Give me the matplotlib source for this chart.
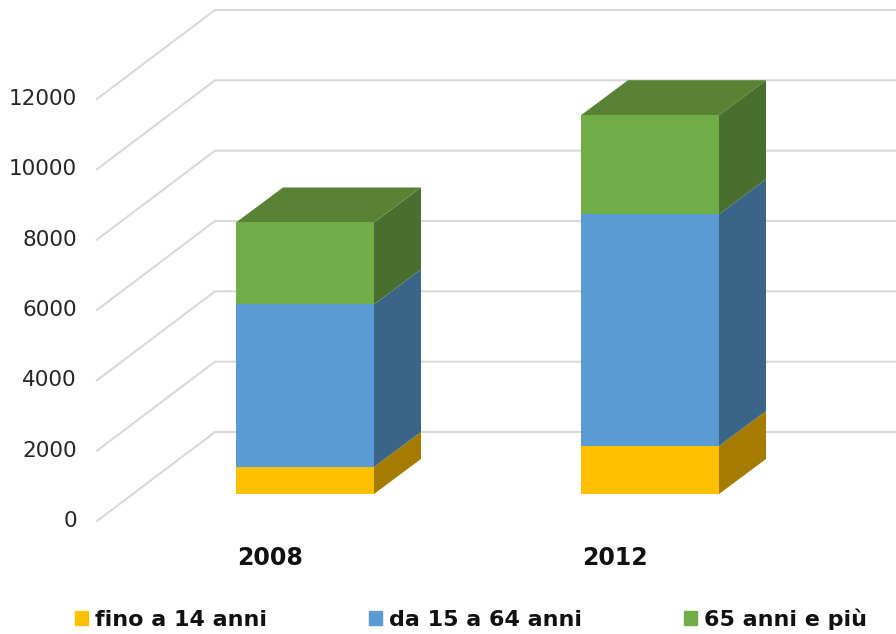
import matplotlib
matplotlib.use("Agg")
import matplotlib.pyplot as plt
from matplotlib.patches import Patch

years = ['2008', '2012']
series = ['fino a 14 anni', 'da 15 a 64 anni', '65 anni e più']
fino_14 = [770, 1365]
da_15_64 = [4620, 6590]
oltre_65 = [2330, 2815]
ticks = [0, 2000, 4000, 6000, 8000, 10000, 12000]

face_colors = ['#FFC000', '#5B9BD5', '#70AD47']
side_colors = ['#A67C00', '#3B6489', '#496F2E']
top_color = '#598235'
grid_color = '#D9D9D9'

px = 0.03517  # pixels per unit on the y scale
front_zero = 521
floor_dx, floor_dy = 118, 89
bar_left = [236, 581]
bar_width = 138
bar_dx, bar_dy = 47, 35
bar_base = 27 / px


def up(pixels):
    return pixels / px


fig = plt.figure(figsize=(8.96, 6.34), dpi=100)
ax = fig.add_axes([0, 0, 1, 1])
ax.set_xlim(0, 896)
ax.set_ylim((front_zero - 634) / px, front_zero / px)
ax.axis('off')

# walls
for t in ticks:
    ax.plot([97, 97 + floor_dx, 896], [t, t + up(floor_dy), t + up(floor_dy)],
            color=grid_color, lw=1.5, zorder=1)
    ax.text(77, t, str(t), ha='right', va='center', fontsize=15.5,
            color='#262626', family='DejaVu Sans')

# bars
for i, year in enumerate(years):
    x0 = bar_left[i]
    x1 = x0 + bar_width
    bottom = bar_base
    for values, face, side in zip([fino_14, da_15_64, oltre_65], face_colors, side_colors):
        top = bottom + values[i]
        ax.fill([x0, x1, x1, x0], [bottom, bottom, top, top], color=face, lw=0, zorder=3)
        ax.fill([x1, x1 + bar_dx, x1 + bar_dx, x1],
                [bottom, bottom + up(bar_dy), top + up(bar_dy), top],
                color=side, lw=0, zorder=2)
        bottom = top
    ax.fill([x0, x1, x1 + bar_dx, x0 + bar_dx],
            [bottom, bottom, bottom + up(bar_dy), bottom + up(bar_dy)],
            color=top_color, lw=0, zorder=2)
    ax.text(x0 + 34, (front_zero - 558) / px, year, ha='center', va='center',
            fontsize=17, fontweight='bold', color='#111111', family='DejaVu Sans')

handles = [Patch(color=c, label=s) for c, s in zip(face_colors, series)]
ax.legend(handles=handles, ncol=3, frameon=False, loc='center left',
          bbox_to_anchor=(75 / 896, 1 - 619 / 634), borderpad=0, borderaxespad=0,
          handlelength=0.585, handleheight=0.585, handletextpad=0.315, columnspacing=4.6,
          prop={'family': 'DejaVu Sans', 'weight': 'bold', 'size': 16},
          labelcolor='#111111')

fig.savefig('out.png', dpi=100)
